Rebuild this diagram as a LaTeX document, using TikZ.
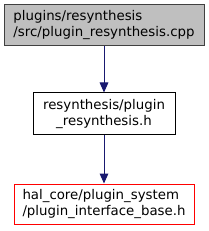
\documentclass[tikz,border=0pt]{standalone}
\usepackage{fontspec}
\setmainfont{DejaVu Sans}
\usetikzlibrary{arrows.meta}
\usepackage{xcolor}
\definecolor{inclInk}   {HTML}{000000}
\definecolor{inclArrow} {HTML}{191970}
\definecolor{rootFill}  {HTML}{BFBFBF}
\definecolor{rootEdge}  {HTML}{404040}
\definecolor{missEdge}  {HTML}{FF0000}

\begin{document}
\begin{tikzpicture}[x=0.75pt, y=-0.75pt,
  every node/.style    ={font=\fontsize{10}{12}\selectfont, text=inclInk},
  root/.style          ={draw=rootEdge, line width=0.75pt, fill=rootFill, align=left, minimum width=150pt, minimum height=30.75pt, inner sep=0pt},
  hdr/.style           ={draw=inclInk, line width=0.75pt, fill=white, align=center, minimum width=106.5pt, minimum height=31.5pt, inner sep=0pt},
  miss/.style          ={draw=missEdge, line width=0.75pt, fill=white, align=left, minimum width=135pt, minimum height=30pt, inner sep=0pt},
  incl/.style          ={-{Triangle[length=7.5pt, width=6.5pt]}, line width=0.75pt, inclArrow},
]

\useasboundingbox (0,0) rectangle (209,231);

\def\xMid{104}
\def\yRoot{25.5}\def\yHdr{114}\def\yBase{204}

\node[root] (cpp)  at (\xMid,\yRoot) {plugins/resynthesis\\/src/plugin\_resynthesis.cpp};
\node[hdr]  (plug) at (\xMid,\yHdr)  {resynthesis/plugin\\\_resynthesis.h};
\node[miss] (base) at (\xMid,\yBase) {hal\_core/plugin\_system\\/plugin\_interface\_base.h};

\draw[incl] (cpp)  -- (plug);
\draw[incl] (plug) -- (base);

\end{tikzpicture}
\end{document}
